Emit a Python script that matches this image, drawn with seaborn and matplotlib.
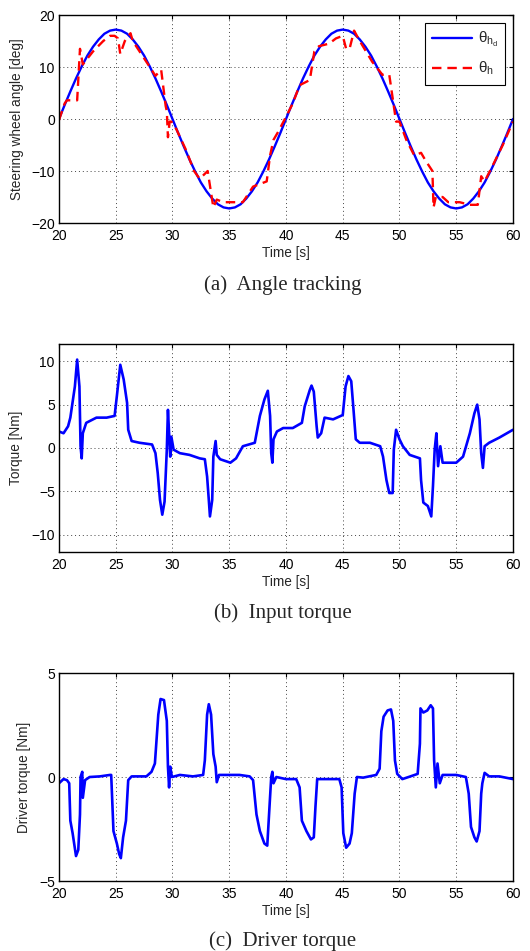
import numpy as np
import pandas as pd
import seaborn as sns
import matplotlib.pyplot as plt

# desired steering angle, sampled every 0.5 s from 20 to 60 s
theta_d = [0, 2.7, 5.3, 7.8, 10.1, 12.2, 13.9, 15.3, 16.4, 17.0, 17.2,
           17.0, 16.4, 15.3, 13.9, 12.2, 10.1, 7.8, 5.3, 2.7, 0,
           -2.7, -5.3, -7.8, -10.1, -12.2, -13.9, -15.3, -16.4, -17.0, -17.2,
           -17.0, -16.4, -15.3, -13.9, -12.2, -10.1, -7.8, -5.3, -2.7, 0,
           2.7, 5.3, 7.8, 10.1, 12.2, 13.9, 15.3, 16.4, 17.0, 17.2,
           17.0, 16.4, 15.3, 13.9, 12.2, 10.1, 7.8, 5.3, 2.7, 0,
           -2.7, -5.3, -7.8, -10.1, -12.2, -13.9, -15.3, -16.4, -17.0, -17.2,
           -17.0, -16.4, -15.3, -13.9, -12.2, -10.1, -7.8, -5.3, -2.7, 0]
t_d = np.linspace(20, 60, len(theta_d))

# measured steering angle
t_h = [20, 20.5, 20.7, 21.6, 21.85, 22.1, 23.0, 23.9, 24.5, 24.9, 25.2, 25.4,
       25.8, 26.3, 26.5, 27.4, 28.0, 28.5, 29.0, 29.4, 29.5, 29.6, 29.75, 29.9,
       30.35, 31.2, 31.9, 32.4, 33.1, 33.6, 33.9, 34.5, 36.2, 37.1, 38.3, 38.6,
       38.9, 39.3, 39.9, 40.6, 41.2, 42.1, 42.5, 42.9, 43.8, 44.4, 45.0, 45.3,
       45.6, 46.0, 46.5, 47.6, 48.5, 49.1, 49.5, 49.7, 50.0, 50.6, 51.3, 51.9,
       52.3, 52.9, 53.0, 53.2, 53.8, 54.3, 55.3, 56.2, 56.9, 57.2, 57.5, 58.2,
       59.1, 60.0]
theta_h = [-0.2, 3.0, 3.6, 3.6, 13.5, 10.5, 13.0, 15.0, 16.0, 16.0, 15.5, 12.5,
           15.0, 16.5, 15.0, 12.0, 10.0, 8.3, 9.5, 2.5, 1.5, -3.5, -0.5, -0.5,
           -2.0, -6.0, -10.0, -11.5, -10.0, -17.0, -15.5, -16.0, -16.0, -13.0, -12.0, -7.0,
           -4.0, -2.5, 0.0, 3.0, 6.5, 7.5, 13.0, 14.0, 14.5, 15.5, 16.0, 13.5,
           13.5, 17.0, 15.0, 11.0, 8.5, 8.5, 2.5, -0.5, -0.5, -4.0, -7.0, -6.5,
           -8.0, -10.0, -17.0, -15.0, -15.0, -16.0, -16.0, -16.5, -16.5, -11.0, -12.0, -9.0,
           -5.0, -0.5]

# input torque
t_in = [20, 20.4, 20.8, 21.0, 21.4, 21.6, 21.8, 21.9, 22.0, 22.1, 22.4, 23.3,
        24.2, 24.9, 25.1, 25.4, 25.7, 26.0, 26.1, 26.4, 27.1, 28.2, 28.5, 28.7,
        28.9, 29.1, 29.3, 29.5, 29.6, 29.7, 29.8, 29.9, 30.1, 30.65, 31.5, 32.4,
        32.85, 33.05, 33.2, 33.3, 33.5, 33.6, 33.8, 33.9, 34.2, 35.1, 35.6, 36.2,
        37.25, 37.7, 38.1, 38.4, 38.6, 38.7, 38.8, 38.9, 39.2, 39.75, 40.6, 41.4,
        41.65, 42.1, 42.25, 42.45, 42.7, 42.8, 43.1, 43.4, 44.15, 45.0, 45.25, 45.5,
        45.75, 45.95, 46.15, 46.5, 47.4, 48.3, 48.55, 48.85, 49.1, 49.4, 49.5, 49.7,
        50.0, 50.3, 50.9, 51.8, 51.9, 52.1, 52.5, 52.8, 52.95, 53.1, 53.25, 53.4,
        53.6, 53.8, 54.3, 55.0, 55.6, 56.2, 56.6, 56.85, 57.05, 57.2, 57.35, 57.5,
        57.9, 58.8, 60.0]
tau_in = [1.9, 1.7, 2.5, 3.5, 7.1, 10.2, 7.1, 0.2, -1.2, 1.7, 2.9, 3.5,
          3.5, 3.7, 6.0, 9.6, 7.9, 5.2, 2.1, 0.8, 0.6, 0.4, -0.6, -2.9,
          -6.0, -7.7, -6.2, -0.2, 4.4, 1.7, -1.0, 1.3, -0.2, -0.6, -0.8, -1.2,
          -1.3, -3.3, -6.0, -7.9, -6.0, -1.0, 0.8, -0.8, -1.3, -1.7, -1.2, 0.2,
          0.6, 3.7, 5.6, 6.6, 3.7, -0.6, -1.7, 1.0, 1.9, 2.3, 2.3, 2.9,
          4.8, 6.7, 7.2, 6.5, 2.5, 1.2, 1.7, 3.5, 3.3, 3.8, 7.1, 8.3,
          7.7, 4.4, 1.0, 0.6, 0.6, 0.2, -1.0, -3.7, -5.2, -5.2, -0.2, 2.1,
          1.0, 0.2, -0.8, -1.2, -3.7, -6.3, -6.7, -7.9, -4.4, -0.2, 1.7, -2.1,
          0.2, -1.7, -1.7, -1.7, -1.0, 1.7, 4.0, 5.0, 3.3, -0.6, -2.3, 0.2,
          0.6, 1.2, 2.1]

# driver torque
t_dr = [20, 20.4, 20.7, 20.9, 21.0, 21.2, 21.5, 21.7, 21.85, 21.9, 22.05, 22.1,
        22.3, 22.7, 23.6, 24.5, 24.6, 24.8, 25.1, 25.3, 25.45, 25.65, 25.9, 26.1,
        26.4, 27.7, 28.15, 28.45, 28.75, 28.95, 29.25, 29.5, 29.6, 29.7, 29.8, 29.95,
        30.65, 31.8, 32.7, 32.85, 33.05, 33.2, 33.4, 33.6, 33.8, 33.9, 34.1, 34.75,
        35.9, 36.8, 37.1, 37.4, 37.7, 38.1, 38.35, 38.55, 38.7, 38.8, 38.9, 39.15,
        40.0, 40.9, 41.2, 41.4, 41.8, 42.2, 42.45, 42.6, 42.75, 43.25, 44.7, 44.9,
        45.05, 45.3, 45.6, 45.8, 46.05, 46.25, 46.8, 47.95, 48.25, 48.4, 48.6, 48.95,
        49.25, 49.45, 49.6, 49.8, 50.25, 50.8, 51.6, 51.8, 51.85, 52.1, 52.45, 52.75,
        52.95, 53.05, 53.2, 53.35, 53.55, 53.8, 55.0, 55.85, 56.1, 56.3, 56.6, 56.8,
        57.05, 57.2, 57.3, 57.5, 57.9, 58.8, 60.0]
tau_dr = [-0.3, -0.1, -0.15, -0.3, -2.1, -2.7, -3.8, -3.5, -1.8, 0.0, 0.25, -1.0,
          -0.15, 0.0, 0.03, 0.1, 0.1, -2.6, -3.2, -3.7, -3.9, -2.9, -2.1, -0.15,
          0.03, 0.03, 0.25, 0.65, 3.0, 3.75, 3.7, 2.7, 0.5, -0.5, 0.5, 0.0,
          0.1, 0.03, 0.1, 0.8, 3.0, 3.5, 3.0, 1.1, 0.5, -0.25, 0.1, 0.1,
          0.1, 0.03, -0.15, -1.8, -2.6, -3.2, -3.3, -1.4, 0.0, 0.25, -0.3, 0.0,
          -0.1, -0.1, -0.5, -2.1, -2.6, -3.0, -2.9, -1.4, -0.1, -0.1, -0.1, -0.5,
          -2.7, -3.4, -3.2, -2.7, -0.8, 0.0, -0.03, 0.1, 0.4, 2.2, 2.9, 3.2,
          3.25, 2.7, 0.8, 0.15, -0.1, 0.0, 0.15, 1.6, 3.3, 3.1, 3.2, 3.45,
          3.3, 0.8, -0.5, 0.65, -0.3, 0.1, 0.1, 0.0, -0.8, -2.4, -2.9, -3.1,
          -2.6, -0.8, -0.3, 0.2, 0.03, 0.03, -0.1]

sns.set_style("white")
plt.rcParams['font.family'] = ['Liberation Sans', 'DejaVu Sans']
plt.rcParams['mathtext.fontset'] = 'custom'
plt.rcParams['mathtext.rm'] = 'Liberation Sans'
plt.rcParams['mathtext.it'] = 'Liberation Sans'

fig = plt.figure(figsize=(5.30, 9.51), dpi=100)
left, width, height = 0.1113, 0.8566, 0.2187
ax_a = fig.add_axes([left, 0.7655, width, height])
ax_b = fig.add_axes([left, 0.4196, width, height])
ax_c = fig.add_axes([left, 0.0736, width, height])


def style(ax, ylim, yticks, ylabel, ylab_x):
    ax.set_xlim(20, 60)
    ax.set_ylim(*ylim)
    ax.set_xticks(range(20, 61, 5))
    ax.set_yticks(yticks)
    ax.grid(True, linestyle=(0, (1, 3)), color='#444444', linewidth=0.7)
    ax.tick_params(direction='in', length=3, width=0.8, top=True, right=True,
                   labelsize=10, colors='black')
    ax.tick_params(axis='x', pad=4)
    ax.tick_params(axis='y', pad=3)
    for s in ax.spines.values():
        s.set_linewidth(1.0)
        s.set_color('black')
        s.set_visible(True)
    ax.set_xlabel('Time [s]', fontsize=9.8)
    ax.set_ylabel(ylabel, fontsize=9.8)
    ax.xaxis.set_label_coords(0.5, -0.11)
    ax.yaxis.set_label_coords(ylab_x, 0.5)


df_d = pd.DataFrame({'t': t_d, 'v': theta_d})
df_h = pd.DataFrame({'t': t_h, 'v': theta_h})
sns.lineplot(data=df_d, x='t', y='v', ax=ax_a, color='#0000ff', lw=1.7,
             label=r'$\theta_{h_d}$', sort=False)
sns.lineplot(data=df_h, x='t', y='v', ax=ax_a, color='#ff0000', lw=1.7,
             dashes=(4, 2.5), label=r'$\theta_h$', sort=False)
style(ax_a, (-20, 20), [-20, -10, 0, 10, 20], 'Steering wheel angle [deg]', -0.077)
leg = ax_a.legend(loc='upper right', fontsize=11, frameon=True, fancybox=False,
                  edgecolor='black', framealpha=1, handlelength=2.6,
                  handletextpad=0.35, borderaxespad=0.5, labelspacing=0.7,
                  borderpad=0.5)
leg.get_frame().set_linewidth(0.8)

sns.lineplot(data=pd.DataFrame({'t': t_in, 'v': tau_in}), x='t', y='v', ax=ax_b,
             color='#0000ff', lw=1.9, sort=False)
style(ax_b, (-12, 12), [-10, -5, 0, 5, 10], 'Torque [Nm]', -0.079)

sns.lineplot(data=pd.DataFrame({'t': t_dr, 'v': tau_dr}), x='t', y='v', ax=ax_c,
             color='#0000ff', lw=1.9, sort=False)
style(ax_c, (-5, 5), [-5, 0, 5], 'Driver torque [Nm]', -0.062)

cap = dict(ha='center', va='center', fontsize=15, family=['Liberation Serif'])
fig.text(0.533, 1 - 285 / 951, '(a)  Angle tracking', **cap)
fig.text(0.533, 1 - 613 / 951, '(b)  Input torque', **cap)
fig.text(0.533, 1 - 941 / 951, '(c)  Driver torque', **cap)

fig.savefig('out.png', dpi=100)
